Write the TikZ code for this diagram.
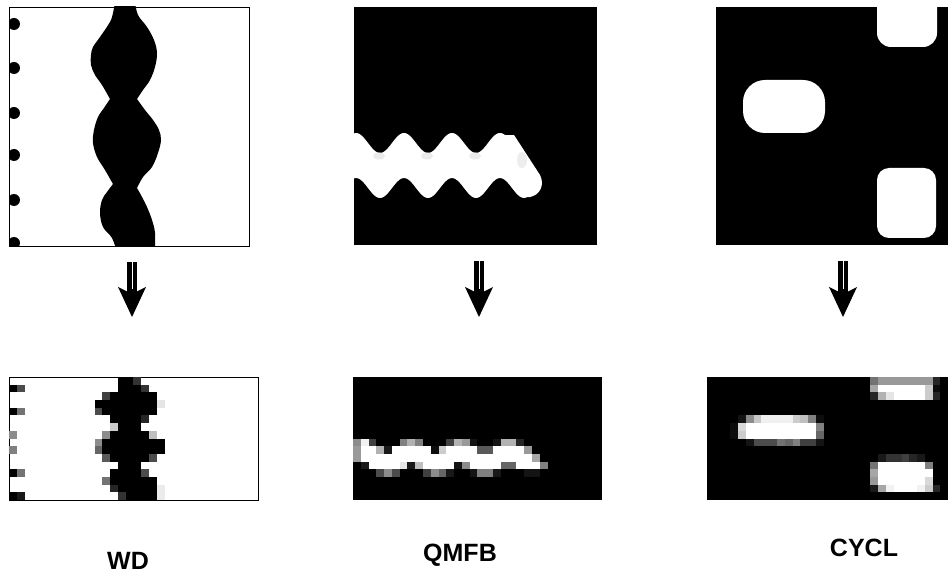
\documentclass[tikz,border=0pt]{standalone}
\usepackage{fontspec}
\setmainfont{Liberation Sans}
\usetikzlibrary{arrows.meta}

\begin{document}
\begin{tikzpicture}[
  x=1pt, y=-1pt,
  every node/.style={font=\fontsize{25}{25}\selectfont\bfseries},
  lightpanel/.style={draw, line width=0.8pt, fill=white, anchor=north west,
                     inner sep=0pt, outer sep=0pt},
  darkpanel/.style={fill=black, anchor=north west, inner sep=0pt, outer sep=0pt},
  bigarr/.style={line width=10pt,
                 -{Stealth[length=30pt, width=28pt, inset=7pt, line width=0pt]},
                 shorten <=16pt, shorten >=60pt},
  shaftgap/.style={white, line width=1pt, shorten <=16pt, shorten >=88pt},
]
\useasboundingbox (0,0) rectangle (948,577);

%% ---- row 0: original fields ----
\node[lightpanel, minimum width=240pt, minimum height=239pt] (wdTop) at (9,7) {};
\node[darkpanel,  minimum width=243pt, minimum height=238pt] (qmTop) at (354,7) {};
\node[darkpanel,  minimum width=232pt, minimum height=238pt] (cyTop) at (716,7) {};

%% ---- row 1: downsampled fields ----
\node[lightpanel, minimum width=249pt, minimum height=123pt] (wdLow) at (9,377) {};
\node[darkpanel,  minimum width=249pt, minimum height=123pt] (qmLow) at (353,377) {};
\node[darkpanel,  minimum width=241pt, minimum height=123pt] (cyLow) at (707,377) {};

%% ---- WD: wavy column + dots ----
\begin{scope}
  \clip (wdTop.north west) rectangle (wdTop.south east);
  \foreach \yy in {24,68,113,155,200,243}
    \fill (14,\yy) circle (6pt);
  \fill plot[smooth, tension=0.6] coordinates {(115,2) (113,13) (110,22) (100,37) (93,47) (91,55) (91,65) (95,75) (102,85) (110,99)}
    -- plot[smooth, tension=0.6] coordinates {(110,99) (104,108) (98,117) (94,130) (93,143) (97,157) (105,170) (113,184)}
    -- plot[smooth, tension=0.6] coordinates {(113,184) (107,192) (102,200) (100,213) (103,227) (112,238) (117,252)}
    -- (155,252)
    -- plot[smooth, tension=0.6] coordinates {(155,252) (155,233) (152,220) (147,207) (142,197) (137,188)}
    -- plot[smooth, tension=0.6] coordinates {(137,188) (143,177) (152,167) (158,153) (161,140) (159,130) (153,120) (145,110) (137,99)}
    -- plot[smooth, tension=0.6] coordinates {(137,99) (143,90) (150,80) (155,67) (157,53) (154,40) (147,27) (138,15) (135,2)}
    -- cycle;
\end{scope}

%% ---- QMFB: wavy band ----
\begin{scope}
  \clip (qmTop.north west) rectangle (qmTop.south east);
  \fill[white] plot[domain=350:505, samples=90] (\x, {143+10*cos(7.5*(\x-380))})
    -- (514,135) -- (540,175)
    .. controls (545,185) and (540,195) .. (530,197)
    -- plot[domain=527:350, samples=90] (\x, {188+10*cos(7.5*(\x-380))})
    -- cycle;
  \foreach \xx in {379,427,475}
    \fill[black!8] (\xx,156) ellipse (6pt and 3.5pt);
  \fill[black!7] (522,160) ellipse (5pt and 8pt);
\end{scope}

%% ---- CYCL: blobs ----
\begin{scope}
  \clip (cyTop.north west) rectangle (cyTop.south east);
  \fill[white, rounded corners=14pt] (877,-20) rectangle (937,47);
  \fill[white, rounded corners=22pt] (743,80) rectangle (825,133);
  \fill[white, rounded corners=12pt] (877,168) rectangle (936,238);
\end{scope}

%% ---- downsampled pixels: row/from/to/darkness ----
\begin{scope}[shift={(wdLow.north west)}, x=7.78pt, y=-7.69pt]
  \foreach \r/\a/\b/\g in {0/14/15/100, 0/16/16/80,
      1/0/0/100, 1/1/1/70, 1/14/16/100, 1/17/17/80,
      2/12/12/75, 2/13/18/100,
      3/11/18/100, 3/19/19/10,
      4/0/0/100, 4/1/1/55, 4/11/11/70, 4/12/18/100,
      5/13/16/100, 5/17/17/85,
      6/13/13/20, 6/14/16/100,
      7/0/0/45, 7/12/12/45, 7/13/17/100, 7/18/18/25,
      8/11/11/45, 8/12/19/100,
      9/0/0/50, 9/11/11/60, 9/12/19/100,
      10/12/12/65, 10/13/17/100, 10/18/18/70,
      11/14/16/100,
      12/0/0/100, 12/1/1/55, 12/13/16/100, 12/17/17/70,
      13/12/12/55, 13/13/18/100,
      14/13/13/85, 14/14/18/100, 14/19/19/8,
      15/0/0/100, 15/1/1/90, 15/14/14/80, 15/15/18/100, 15/19/19/8}
    \fill[black!\g] (\a,\r) rectangle (\b+1,\r+1);
\end{scope}

\begin{scope}[shift={(qmLow.north west)}, x=7.78pt, y=-7.69pt]
  \foreach \r/\a/\b/\g in {8/0/0/45, 8/1/1/5, 8/2/2/75, 8/6/6/50, 8/7/7/30, 8/8/8/50,
      8/12/12/75, 8/13/13/30, 8/14/14/40, 8/15/15/92, 8/18/18/92, 8/19/20/30, 8/21/21/85,
      9/0/0/40, 9/1/2/0, 9/3/3/30, 9/4/4/90, 9/5/9/0, 9/10/10/95, 9/11/11/20,
      9/12/15/0, 9/16/17/65, 9/18/21/0, 9/22/22/40,
      10/0/0/40, 10/1/22/0, 10/23/23/35,
      11/1/1/90, 11/2/5/0, 11/6/6/10, 11/7/7/90, 11/8/8/25, 11/9/12/0, 11/13/13/92,
      11/14/14/45, 11/15/18/0, 11/19/20/60, 11/21/23/0, 11/24/24/50,
      12/3/3/70, 12/4/4/45, 12/5/5/70, 12/9/9/75, 12/10/10/45, 12/11/11/60,
      12/12/12/90, 12/15/15/92, 12/16/17/50, 12/18/18/90, 12/22/23/92}
    \fill[black!\g] (\a,\r) rectangle (\b+1,\r+1);
\end{scope}

\begin{scope}[shift={(cyLow.north west)}, x=7.78pt, y=-7.69pt]
  \foreach \r/\a/\b/\g in {0/21/21/55, 0/22/28/40, 0/29/29/85,
      1/21/21/35, 1/22/27/0, 1/28/28/20, 1/29/29/95,
      2/21/21/85, 2/22/22/30, 2/23/23/10, 2/24/27/0, 2/28/28/20, 2/29/29/85,
      5/4/4/92, 5/5/5/45, 5/6/6/22, 5/7/10/6, 5/11/11/20, 5/12/12/25, 5/13/13/50, 5/14/14/95,
      6/3/3/95, 6/4/4/15, 6/5/13/0, 6/14/14/50,
      7/3/3/95, 7/4/4/20, 7/5/13/0, 7/14/14/60,
      8/5/5/92, 8/6/8/70, 8/9/9/55, 8/10/10/60, 8/11/11/50, 8/12/13/75, 8/14/14/92,
      10/22/22/90, 10/23/24/80, 10/25/25/75, 10/26/26/85, 10/27/27/90,
      11/21/21/55, 11/22/27/0, 11/28/28/50,
      12/21/21/35, 12/22/28/0,
      13/21/21/40, 13/22/27/0, 13/28/28/15,
      14/21/21/90, 14/22/22/35, 14/23/23/5, 14/24/26/0, 14/27/27/5, 14/28/28/20, 14/29/29/85}
    \fill[black!\g] (\a,\r) rectangle (\b+1,\r+1);
\end{scope}

%% ---- arrows ----
\coordinate (wdArr) at ([xshift=3pt]wdTop.south);
\coordinate (qmArr) at ([xshift=3.5pt]qmTop.south);
\coordinate (cyArr) at ([xshift=11pt]cyTop.south);
\foreach \s/\t in {wdArr/wdLow, qmArr/qmLow, cyArr/cyLow} {
  \draw[bigarr]   (\s) -- (\s |- \t.north);
  \draw[shaftgap] (\s) -- (\s |- \t.north);
}

%% ---- labels ----
\node (wdLab) at (128,561) {WD};
\node (qmLab) at (460,555) {QMFB};
\node (cyLab) at (864,548) {CYCL};
\end{tikzpicture}
\end{document}
